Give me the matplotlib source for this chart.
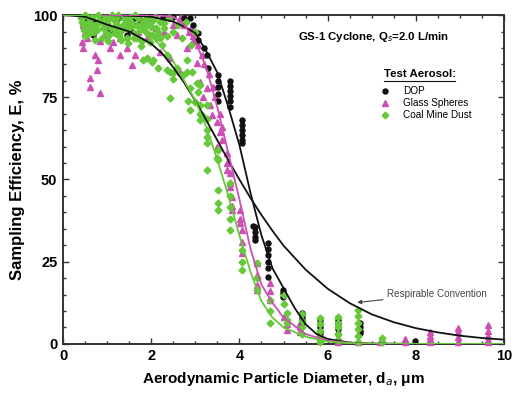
import matplotlib
matplotlib.use("Agg")
import matplotlib.pyplot as plt
from matplotlib.ticker import MultipleLocator

plt.rcParams['font.family'] = ['Liberation Sans', 'DejaVu Sans']

# ---------------- data ----------------
# fitted / convention curves
resp_x = [0, 0.5, 1, 1.5, 2, 2.25, 2.5, 2.75, 3, 3.25, 3.5, 3.75, 4, 4.25, 4.5, 4.75,
          5, 5.5, 6, 6.5, 7, 7.5, 8, 8.5, 9, 9.5, 10]
resp_y = [100, 99.5, 97.1, 95, 91.3, 88.3, 84.1, 79.4, 73.9, 68.0, 61.9, 55.8, 50.0,
          44.4, 39.2, 34.4, 29.9, 22.6, 16.8, 12.4, 9.0, 6.6, 4.8, 3.5, 2.5, 1.8, 1.3]

dop_x = [0, 1, 1.5, 2, 2.5, 2.75, 3, 3.25, 3.5, 3.75, 4, 4.25, 4.5, 4.75, 5, 5.25,
         5.5, 5.75, 6, 6.5, 7, 8, 10]
dop_y = [100, 100, 99.8, 99.5, 98, 96.5, 94.5, 89, 82.5, 72, 60.5, 46, 33, 23, 17,
         11, 6, 3, 1.5, 0.4, 0.1, 0, 0]

glass_x = [0, 1, 2, 2.5, 2.75, 3, 3.25, 3.5, 3.75, 4, 4.25, 4.5, 4.75, 5, 5.5, 6,
           6.5, 7, 8, 10]
glass_y = [100, 100, 100, 99.5, 97, 92, 84, 72, 58, 44, 29, 18, 12.5, 8, 3, 1,
           0.3, 0.1, 0, 0]

coal_x = [0, 0.5, 1, 1.5, 2, 2.5, 2.75, 3, 3.25, 3.5, 3.75, 4, 4.25, 4.5, 4.75, 5,
          5.5, 6, 6.5, 7, 8, 10]
coal_y = [100, 100, 99.5, 98, 94, 86, 80, 74, 66, 56, 45, 33, 22, 13, 8, 5,
          2.2, 0.7, 0.2, 0.05, 0, 0]

# measured points
dop_px = [0.55, 0.7, 0.68, 0.9, 1.07, 1.25, 1.45, 1.52, 1.6,
          1.75, 1.95, 2.04, 2.27, 2.5, 2.75, 2.88, 2.95,
          3.06, 3.06, 3.2, 3.26, 3.29,
          3.51, 3.51, 3.51, 3.51, 3.51,
          3.79, 3.79, 3.79, 3.79, 3.79, 3.79,
          4.06, 4.06, 4.06, 4.06, 4.06, 4.06,
          4.31, 4.35, 4.35, 4.35, 4.35,
          4.65, 4.65, 4.65, 4.65, 4.65, 4.65,
          4.99, 4.99, 4.99,
          5.42, 5.42, 5.42, 5.42,
          5.83, 5.83, 5.83, 5.83, 5.83,
          6.24, 6.24, 6.24, 6.24, 6.24,
          6.73, 6.73, 6.73, 6.73,
          7.98]
dop_py = [99, 98, 94, 99, 95.4, 99, 94, 95.4, 99,
          98.5, 99.5, 99, 99.4, 99.5, 99, 99, 97,
          94.5, 92.5, 90, 88, 84,
          81.8, 80, 78, 76, 74,
          80, 78.5, 77, 75.5, 74, 72,
          68, 66.5, 65, 63.5, 62, 61,
          36, 35.5, 34, 32.5, 31.6,
          30.7, 29, 27, 25, 23, 20.4,
          16.4, 15.5, 14.3,
          9.4, 8.5, 7.5, 6.7,
          7.3, 6, 5, 4, 3.3,
          7.3, 6, 4.5, 3, 1.2,
          6.4, 5, 4, 3.3,
          0.9]

glass_px = [0.45, 0.5, 0.43, 0.45, 0.55, 0.6, 0.65, 0.73, 0.79, 0.77, 0.61, 0.61,
            0.84, 0.85, 0.95, 1.0, 1.07, 1.13, 1.2, 1.29, 1.3, 1.4, 1.45, 1.56,
            1.63, 1.7, 1.8, 1.9, 2.0, 2.1, 2.2, 2.3, 2.43, 2.5, 2.58, 2.65, 2.7,
            2.81, 2.9, 2.95, 3.04, 3.11, 3.17, 3.26, 3.33, 3.38, 3.49, 3.56,
            2.65, 2.75, 2.85, 2.95, 3.05, 3.15, 3.2, 3.3, 3.4, 3.45, 3.55, 3.6,
            3.49, 3.6, 3.72, 3.72, 3.72, 3.79, 3.79, 3.79, 3.83, 3.83, 3.83,
            4.01, 4.01, 4.01, 4.06, 4.06, 4.06,
            4.4, 4.4, 4.4, 4.4, 4.69, 4.69, 4.69,
            5.0, 5.08, 5.08, 5.37, 5.37, 5.37, 5.83, 5.83, 5.83, 6.24, 6.24,
            6.69, 7.19, 7.76, 7.76,
            8.32, 8.32, 8.32, 8.32, 8.96, 8.96, 8.96, 8.96,
            9.64, 9.64, 9.64, 9.64, 9.64]
glass_py = [97, 95, 91.8, 90, 93, 98, 96, 87.8, 86.3, 83.3, 81, 78.2,
            76.3, 92, 94, 97, 90, 91.8, 95, 87.8, 93, 98, 90, 84.8,
            87.8, 95, 97, 93, 99, 96, 88.8, 95, 86.9, 97, 94, 82.7, 99,
            90, 96, 92, 85.4, 79.6, 75, 77.8, 72.6, 69.6, 67.5, 64.4,
            99, 97, 95, 93.5, 91, 88, 85, 82, 78, 75, 70, 66,
            60, 62, 58, 55, 53, 52, 49, 47.7, 44.7, 42, 40.7,
            40.7, 38, 36.8, 34.7, 31, 27.7,
            24.6, 21, 18, 16.4, 18.5, 16, 13.4,
            8.2, 6, 4.3, 6.4, 5, 3.6, 3.3, 2, 1.2, 1, 0.5,
            0.6, 0.6, 0.6, 1.5,
            3.6, 2.5, 1.5, 0.6, 4.9, 3.5, 2.2, 0.6,
            5.8, 4, 2.5, 1.2, 0.6]

coal_px = [0.4, 0.45, 0.5, 0.55, 0.6, 0.65, 0.7, 0.75, 0.8, 0.85, 0.9, 0.95, 1.0,
           1.05, 1.1, 1.15, 1.2, 1.25, 1.3, 1.35, 1.4, 1.45, 1.5, 1.55, 1.6, 1.65,
           1.7, 1.75, 1.8, 1.85, 1.9, 1.95, 2.0, 2.05, 2.1, 2.15, 2.2, 2.25, 2.3,
           2.35, 2.4, 2.5, 2.6, 2.7, 2.8, 2.9, 3.0,
           0.5, 0.62, 0.72, 0.88, 1.02, 1.18, 1.32, 1.48, 1.62, 1.78,
           0.42, 0.52, 0.58, 0.68, 0.78, 0.92, 0.98, 1.08, 1.12, 1.22, 1.28,
           1.38, 1.42, 1.52, 1.58, 1.68, 1.72, 1.82, 1.88, 1.98, 2.08, 2.12,
           2.18, 2.28, 0.48, 0.66, 0.82, 1.04, 1.24, 1.44, 1.64, 1.84, 2.02,
           1.97, 2.2, 1.9, 2.04, 2.36, 1.81, 2.02, 2.15, 2.36, 2.49, 2.43, 2.58,
           2.81, 2.72, 2.93, 2.49, 2.81, 3.04, 3.06, 2.88, 3.11, 2.83, 2.43,
           2.99, 3.11, 3.26, 2.88, 3.15, 3.27, 3.11, 3.11, 3.26, 3.26, 3.26,
           3.26, 3.49, 3.51, 3.51, 3.51, 3.51, 3.51, 3.79, 3.79, 3.79, 3.79,
           3.79, 4.06, 4.06, 4.06, 4.4, 4.4, 4.4, 4.69, 4.69, 4.69,
           5.0, 5.0, 5.08, 5.08, 5.08, 5.42, 5.42, 5.42, 5.42,
           5.83, 5.83, 5.83, 5.83, 5.83, 6.24, 6.24, 6.24, 6.24, 6.24,
           6.69, 6.69, 6.69, 6.69, 6.69, 6.69, 7.23, 7.23]
coal_py = [99, 97, 100, 96, 98, 99.5, 95, 97, 100, 98, 96, 99, 97.5,
           94, 99, 96.5, 98, 100, 95, 97, 99, 93, 96, 98, 94.5, 97,
           99, 95.5, 92, 97.5, 99, 94, 96.5, 98.5, 93, 95, 98, 91, 96,
           93.5, 99, 95, 97, 93, 98, 91, 95,
           93.5, 94.5, 92.5, 93, 92, 94.5, 92.5, 91.5, 93, 90.5,
           98, 96.5, 99, 97, 95.5, 98, 94.5, 96, 100, 97, 93.5,
           96, 98.5, 99.5, 97, 93, 96.5, 98, 95, 97, 99.5, 96,
           93.5, 97.5, 95.5, 96.5, 98.5, 99, 96, 97.5, 100, 96.5, 94,
           91.8, 93, 86.9, 86.3, 87.8, 86.3, 85.7, 84, 83.3, 82.4, 82.7, 83.9,
           86.3, 81.8, 82.7, 80.5, 82.7, 79.3, 76.6, 77.8, 78.7, 74, 74.8,
           73.6, 72.6, 72.6, 71, 69.6, 68.4, 70, 68, 65, 63, 61,
           53, 56.5, 59, 56, 46.8, 43, 40.7, 49, 45, 41.6, 38,
           34.7, 28.6, 25, 22.5, 24.6, 20, 16.4, 13.4, 10, 6.4,
           15, 12, 9.5, 7.3, 6.4, 9, 7, 5, 3,
           7.9, 6, 4, 2, 0.6, 8.2, 6.5, 5, 3, 1.2,
           10.3, 8.5, 6.5, 4.5, 2.5, 0.6, 1.8, 0.6]

series_labels = ["DOP", "Glass Spheres", "Coal Mine Dust"]
x_ticks = [0, 2, 4, 6, 8, 10]
y_ticks = [0, 25, 50, 75, 100]

# ---------------- styling ----------------
GREEN = '#66c83a'
MAGENTA = '#cc4fb4'
BLACK = '#111111'

fig = plt.figure(figsize=(5.25, 4.07), dpi=100)
ax = fig.add_axes([0.12, 0.155, 0.84, 0.808])

ax.plot(glass_px, glass_py, linestyle='none', marker='^', ms=4.0, color=MAGENTA,
        mec=MAGENTA, zorder=3, clip_on=False)
ax.plot(dop_px, dop_py, linestyle='none', marker='o', ms=3.6, color=BLACK,
        zorder=4, clip_on=False)
ax.plot(coal_px, coal_py, linestyle='none', marker='D', ms=3.5, color=GREEN,
        mec=GREEN, zorder=5, clip_on=False)

ax.plot(resp_x, resp_y, color=BLACK, lw=1.3, zorder=6)
ax.plot(dop_x, dop_y, color=BLACK, lw=1.3, zorder=6)
ax.plot(glass_x, glass_y, color=MAGENTA, lw=1.3, zorder=6)
ax.plot(coal_x, coal_y, color=GREEN, lw=1.3, zorder=6)

ax.set_xlim(0, 10)
ax.set_ylim(0, 100)
ax.set_xticks(x_ticks)
ax.set_yticks(y_ticks)
ax.xaxis.set_minor_locator(MultipleLocator(0.5))
ax.yaxis.set_minor_locator(MultipleLocator(5))
ax.tick_params(which='both', direction='in', top=True, right=True, width=1.0,
               color='#333333')
ax.tick_params(which='major', length=4.5, labelsize=10.5, pad=4)
ax.tick_params(which='minor', length=2.5)
for lab in ax.get_xticklabels() + ax.get_yticklabels():
    lab.set_fontweight('bold')
for sp in ax.spines.values():
    sp.set_linewidth(1.4)
    sp.set_color('#333333')

ax.set_xlabel("Aerodynamic Particle Diameter, d$_{a}$, \u03bcm", fontsize=11,
              fontweight='bold', labelpad=5)
ax.set_ylabel("Sampling Efficiency, E, %", fontsize=12, fontweight='bold',
              labelpad=6)

ax.text(0.533, 0.933, "GS-1 Cyclone, Q$_{s}$=2.0 L/min", transform=ax.transAxes,
        fontsize=8.2, fontweight='bold', va='center', ha='left')

# legend
ax.text(0.728, 0.822, "Test Aerosol:", transform=ax.transAxes, fontsize=8.2,
        fontweight='bold', va='center', ha='left')
ax.plot([0.728, 0.889], [0.801, 0.801], transform=ax.transAxes, color=BLACK,
        lw=0.8, clip_on=False)
leg_y = [0.769, 0.733, 0.696]
leg_m = [('o', BLACK, 3.6), ('^', MAGENTA, 4.2), ('D', GREEN, 3.4)]
for lbl, yy, (mk, col, ms) in zip(series_labels, leg_y, leg_m):
    ax.plot([0.730], [yy], transform=ax.transAxes, marker=mk, color=col,
            ms=ms, linestyle='none', clip_on=False)
    ax.text(0.771, yy, lbl, transform=ax.transAxes, fontsize=7.2, va='center',
            ha='left')

ax.annotate("Respirable Convention", xy=(6.67, 12.6), xytext=(7.35, 15.2),
            fontsize=7.1, va='center', ha='left', color='#444444',
            arrowprops=dict(arrowstyle='-|>', color='#444444', lw=0.8,
                            mutation_scale=6, shrinkA=1, shrinkB=0))

fig.savefig("out.png", dpi=100)
